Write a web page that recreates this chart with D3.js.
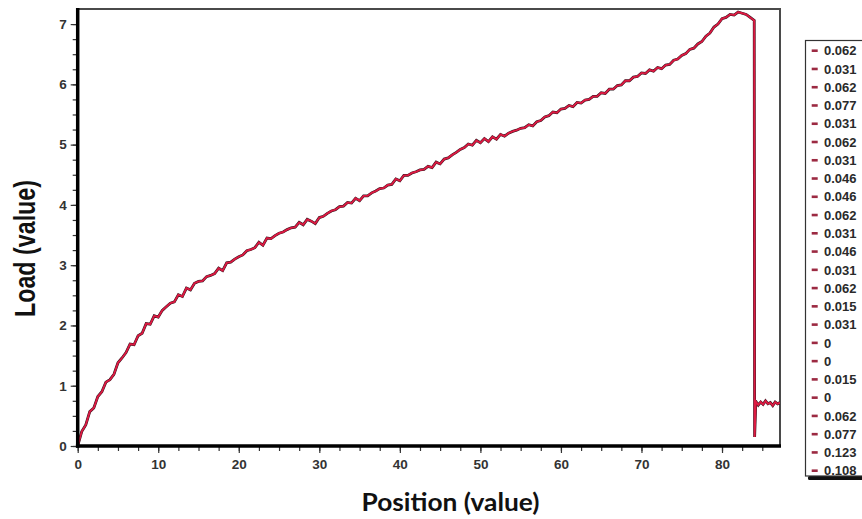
<!DOCTYPE html>
<html><head><meta charset="utf-8">
<script src="https://cdn.jsdelivr.net/npm/d3@7"></script>
<style>body{margin:0;background:#fff;} svg{display:block}</style>
</head><body><svg id="c" width="862" height="519"></svg>
<script>
// Load vs position
const loadCurve = [
[0,0],[0.5,0.24],[1,0.35],[1.5,0.57],[2,0.63],[2.5,0.82],[3,0.90],[3.5,1.06],[4,1.10],[4.5,1.19],
[5,1.38],[5.5,1.46],[6,1.55],[6.5,1.69],[7,1.68],[7.5,1.83],[8,1.87],[8.5,2.03],[9,2.02],[9.5,2.16],
[10,2.14],[10.5,2.25],[11,2.31],[11.5,2.37],[12,2.39],[12.5,2.51],[13,2.48],[13.5,2.62],[14,2.59],[14.5,2.70],
[15,2.73],[15.5,2.74],[16,2.81],[16.5,2.83],[17,2.86],[17.5,2.95],[18,2.91],[18.5,3.04],[19,3.05],[19.5,3.10],
[20,3.14],[20.5,3.17],[21,3.24],[21.5,3.26],[22,3.29],[22.5,3.38],[23,3.33],[23.5,3.45],[24,3.44],[24.5,3.49],
[25,3.53],[25.5,3.55],[26,3.59],[26.5,3.62],[27,3.63],[27.5,3.71],[28,3.67],[28.5,3.76],[29,3.73],[29.5,3.69],
[30,3.79],[30.5,3.81],[31,3.86],[31.5,3.90],[32,3.92],[32.5,3.97],[33,3.98],[33.5,4.04],[34,4.03],[34.5,4.11],
[35,4.07],[35.5,4.15],[36,4.15],[36.5,4.20],[37,4.23],[37.5,4.27],[38,4.28],[38.5,4.33],[39,4.34],[39.5,4.43],
[40,4.40],[40.5,4.49],[41,4.49],[41.5,4.53],[42,4.55],[42.5,4.58],[43,4.59],[43.5,4.64],[44,4.62],[44.5,4.71],
[45,4.68],[45.5,4.76],[46,4.78],[46.5,4.83],[47,4.87],[47.5,4.92],[48,4.95],[48.5,5.01],[49,4.99],[49.5,5.07],
[50,5.03],[50.5,5.10],[51,5.05],[51.5,5.13],[52,5.09],[52.5,5.17],[53,5.14],[53.5,5.19],[54,5.22],[54.5,5.24],
[55,5.27],[55.5,5.28],[56,5.33],[56.5,5.31],[57,5.38],[57.5,5.40],[58,5.46],[58.5,5.48],[59,5.54],[59.5,5.53],
[60,5.59],[60.5,5.60],[61,5.65],[61.5,5.63],[62,5.70],[62.5,5.69],[63,5.74],[63.5,5.75],[64,5.80],[64.5,5.80],
[65,5.86],[65.5,5.85],[66,5.92],[66.5,5.92],[67,5.98],[67.5,5.99],[68,6.06],[68.5,6.06],[69,6.12],[69.5,6.13],
[70,6.19],[70.5,6.18],[71,6.24],[71.5,6.22],[72,6.28],[72.5,6.26],[73,6.32],[73.5,6.33],[74,6.40],[74.5,6.42],
[75,6.48],[75.5,6.51],[76,6.58],[76.5,6.60],[77,6.67],[77.5,6.71],[78,6.80],[78.5,6.85],[79,6.95],[79.5,7.00],
[80,7.09],[80.5,7.11],[81,7.16],[81.5,7.15],[82,7.20],[82.5,7.18],[83,7.16],[83.5,7.11],[84,7.06],
[84.05,0.15],[84.2,0.74],[84.5,0.68],[84.8,0.73],[85.1,0.69],[85.4,0.75],[85.7,0.70],[86.0,0.72],
[86.3,0.67],[86.6,0.73],[86.9,0.70],[87.2,0.72]
];
const legendValues = ["0.062","0.031","0.062","0.077","0.031","0.062","0.031","0.046","0.046","0.062",
"0.031","0.046","0.031","0.062","0.015","0.031","0","0","0.015","0","0.062","0.077","0.123","0.108"];
const xTickLabels = [0,10,20,30,40,50,60,70,80];
const yTickLabels = [0,1,2,3,4,5,6,7];
const xDomain = [0, 87.2];
const yDomain = [0, 7.25];

const svg = d3.select("#c");
const L = 77.7, R = 780, T = 9, B = 446;
const x = d3.scaleLinear().domain(xDomain).range([L, R]);
const y = d3.scaleLinear().domain(yDomain).range([B, T]);

svg.append("defs").append("clipPath").attr("id","clip")
  .append("rect").attr("x",L).attr("y",T).attr("width",R-L).attr("height",B-T);

// frame top/right
svg.append("path").attr("d",`M${L},${T}H${R}V${B}`).attr("fill","none")
  .attr("stroke","#4a4a4a").attr("stroke-width",2);

// curve
const line = d3.line().x(d=>x(d[0])).y(d=>y(d[1]));
const g = svg.append("g").attr("clip-path","url(#clip)");
g.append("path").datum(loadCurve).attr("d",line).attr("fill","none")
  .attr("stroke","#2e141c").attr("stroke-width",2.8);
g.append("path").datum(loadCurve).attr("d",line).attr("fill","none")
  .attr("stroke","#dc1a42").attr("stroke-width",1.9);

// axes
const tickFont = "Liberation Sans, Arial, sans-serif";
const xMinor = svg.append("g").attr("transform",`translate(0,${B})`)
  .call(d3.axisBottom(x).tickValues(d3.range(0, 87.2, 2.5)).tickSize(5).tickFormat(""));
const xMajor = svg.append("g").attr("transform",`translate(0,${B})`)
  .call(d3.axisBottom(x).tickValues(xTickLabels).tickSize(7).tickPadding(6));
const yMinor = svg.append("g").attr("transform",`translate(${L},0)`)
  .call(d3.axisLeft(y).tickValues(d3.range(0, 7.25, 0.25)).tickSize(5).tickFormat(""));
const yMajor = svg.append("g").attr("transform",`translate(${L},0)`)
  .call(d3.axisLeft(y).tickValues(yTickLabels).tickSize(7).tickPadding(4));
[xMinor,xMajor,yMinor,yMajor].forEach(a=>{
  a.select(".domain").remove();
  a.selectAll(".tick line").attr("stroke","#333").attr("stroke-width",1.2);
  a.selectAll(".tick text").attr("font-family",tickFont).attr("font-weight","bold")
    .attr("font-size",13.5).attr("fill","#333");
});

// thick left & bottom axis lines
svg.append("line").attr("x1",L).attr("x2",L).attr("y1",T-1).attr("y2",B+1.8)
  .attr("stroke","#000").attr("stroke-width",3.5);
svg.append("line").attr("x1",L-1.8).attr("x2",R+1).attr("y1",B).attr("y2",B)
  .attr("stroke","#000").attr("stroke-width",3.5);

// axis titles
svg.append("text").attr("transform",`translate(35,248.5) rotate(-90)`)
  .attr("text-anchor","middle").attr("font-family",tickFont).attr("font-weight","bold")
  .attr("font-size",29).attr("textLength",137).attr("lengthAdjust","spacingAndGlyphs")
  .attr("fill","#111").text("Load (value)");
svg.append("text").attr("x",450.5).attr("y",511).attr("text-anchor","middle")
  .attr("font-family","Lato, 'Open Sans', sans-serif").attr("font-weight","bold")
  .attr("font-size",24.5).attr("textLength",178).attr("lengthAdjust","spacingAndGlyphs")
  .attr("fill","#111").text("Position (value)");

// legend
const lg = svg.append("g");
lg.append("rect").attr("x",808).attr("y",476).attr("width",80).attr("height",4).attr("rx",1.5).attr("fill","#111");
lg.append("rect").attr("x",805.5).attr("y",40.5).attr("width",80).attr("height",435.5)
  .attr("fill","#fff").attr("stroke","#333").attr("stroke-width",1.2);
const ly = d3.scalePoint().domain(d3.range(legendValues.length)).range([50.7, 470.7]);
const items = lg.selectAll("g.item").data(legendValues).enter().append("g")
  .attr("transform",(d,i)=>`translate(0,${ly(i)})`);
items.append("rect").attr("x",811.7).attr("y",-1.3).attr("width",6).attr("height",2.6).attr("fill","#9c2a42");
items.append("text").attr("x",824).attr("dy","0.36em").attr("font-family",tickFont)
  .attr("font-weight","bold").attr("font-size",13).attr("fill","#2a2a2a").text(d=>d);
</script></body></html>
